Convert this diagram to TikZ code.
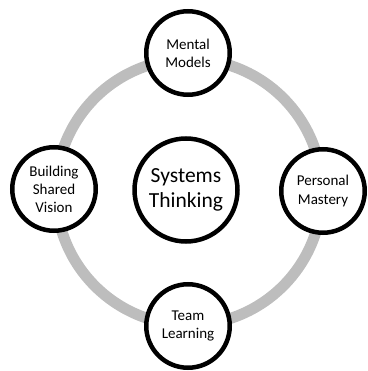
\documentclass[tikz,border=0pt]{standalone}
\usepackage{fontspec}
\setmainfont{Carlito}
\definecolor{ringgray}{RGB}{189,189,189}
\begin{document}
\begin{tikzpicture}[x=1pt,y=-1pt,
  sat/.style={circle,draw=black,line width=4.5pt,fill=white,minimum size=83.5pt,inner sep=0pt,align=center,font=\fontsize{15}{18}\selectfont},
  core/.style={circle,draw=black,line width=4.5pt,fill=white,minimum size=103pt,inner sep=0pt,align=center,font=\fontsize{21.5}{25}\selectfont}]
\useasboundingbox (0,0) rectangle (367,371);
\coordinate (rc) at (189,192);
\draw[ringgray,line width=11pt] (rc) circle[radius=133];
\node[core] (st) at (186,190) {Systems\\Thinking};
\node[sat] (mm) at (188,53) {Mental\\Models};
\node[sat] (pm) at (323,191) {Personal\\Mastery};
\node[sat] (tl) at (188,326) {Team\\Learning};
\node[sat] (bsv) at (54,189) {Building\\Shared\\Vision};
\end{tikzpicture}
\end{document}
